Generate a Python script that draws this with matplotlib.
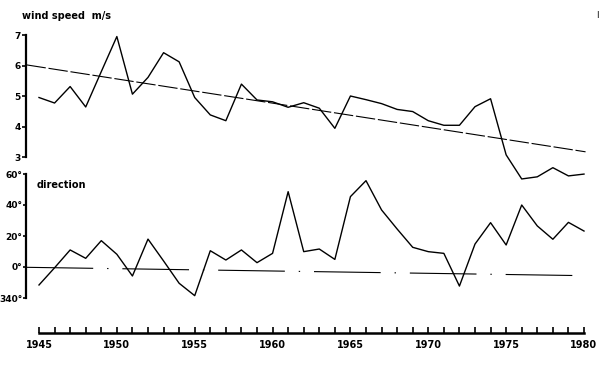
import matplotlib
matplotlib.use('Agg')
import matplotlib.pyplot as plt

plt.rcParams['font.family'] = ['DejaVu Sans']
plt.rcParams['lines.scale_dashes'] = False

# ==================== 数据 ====================
years = list(range(1945, 1981))

wind_speed = [4.95, 4.77, 5.31, 4.64, 5.8, 6.95, 5.06, 5.61, 6.42, 6.12,
              4.95, 4.38, 4.19, 5.39, 4.87, 4.81, 4.63, 4.78, 4.6, 3.94,
              5.0, 4.88, 4.75, 4.56, 4.49, 4.19, 4.04, 4.04, 4.65, 4.91,
              3.07, 2.28, 2.35, 2.65, 2.38, 2.44]

direction = [-11.6, -0.5, 11.0, 5.6, 17.0, 8.2, -5.8, 18.0, 3.9, -10.5,
             -18.5, 10.5, 4.5, 11.0, 2.8, 8.8, 48.6, 9.9, 11.6, 4.9,
             45.4, 55.7, 36.8, 24.5, 12.7, 9.9, 8.8, -12.3, 14.8, 28.6,
             14.2, 40.0, 26.5, 17.9, 28.8, 23.2]

trend_years = [1944.2, 1980.1]
wind_trend = [6.02, 3.17]
dir_trend = [-0.2, -5.6]

wind_ticks = [3, 4, 5, 6, 7]
dir_ticks = [-20, 0, 20, 40, 60]
dir_ticklabels = ['340°', '0°', '20°', '40°', '60°']
year_ticks = [1945, 1950, 1955, 1960, 1965, 1970, 1975, 1980]

# ==================== 绘图 ====================
W, H = 600, 384
fig = plt.figure(figsize=(6, 3.84), dpi=100)

xl = (1945 - 13 / 15.57, 1980 + 2 / 15.57)
left, width = 26 / W, 560 / W

# 上图：风速
ax1 = fig.add_axes([left, 1 - 157 / H, width, 122 / H])
ax1.set_facecolor('none')
ax1.set_xlim(*xl)
ax1.set_ylim(3, 7)
ax1.plot(years, wind_speed, color='black', lw=1.0, clip_on=False, zorder=3)
ax1.plot(trend_years, wind_trend, color='black', lw=0.8,
         dashes=(14, 2), clip_on=False)
for s in ['top', 'right', 'bottom']:
    ax1.spines[s].set_visible(False)
ax1.spines['left'].set_linewidth(1.6)
ax1.set_xticks([])
ax1.set_yticks(wind_ticks)
ax1.tick_params(axis='y', direction='out', length=3, width=1.2, pad=1,
                labelsize=6.5)
for t in ax1.get_yticklabels():
    t.set_fontweight('bold')
fig.text(22 / W, 1 - 16 / H, 'wind speed  m/s', fontsize=7,
         fontweight='bold', va='center', ha='left')

# 下图：风向
ax2 = fig.add_axes([left, 1 - 333 / H, width, (333 - 174) / H])
ax2.set_facecolor('none')
ax2.set_xlim(*xl)
ax2.set_ylim(-(333 - 267) / 31 * 20, 60)
ax2.plot(years, direction, color='black', lw=1.0, zorder=3)
ax2.plot(trend_years, dir_trend, color='black', lw=0.8,
         dashes=(48, 10, 1, 10))
for s in ['top', 'right']:
    ax2.spines[s].set_visible(False)
ax2.spines['left'].set_bounds(-20, 60)
ax2.spines['left'].set_linewidth(1.6)
ax2.spines['bottom'].set_bounds(1945, 1980)
ax2.spines['bottom'].set_linewidth(1.8)
ax2.set_yticks(dir_ticks)
ax2.set_yticklabels(dir_ticklabels)
ax2.set_xticks(year_ticks)
ax2.set_xticks(years, minor=True)
ax2.tick_params(axis='y', direction='out', length=2, width=1.2, pad=0.5,
                labelsize=6.5)
ax2.tick_params(axis='x', which='both', direction='in', length=4, width=1.2,
                pad=5, labelsize=7)
for t in ax2.get_yticklabels() + ax2.get_xticklabels():
    t.set_fontweight('bold')
fig.text(37 / W, 1 - 185 / H, 'direction', fontsize=7,
         fontweight='bold', va='center', ha='left')

fig.text(597 / W, 1 - 15 / H, 'I', fontsize=6, va='center', ha='center')

fig.savefig('out.png', dpi=100)
